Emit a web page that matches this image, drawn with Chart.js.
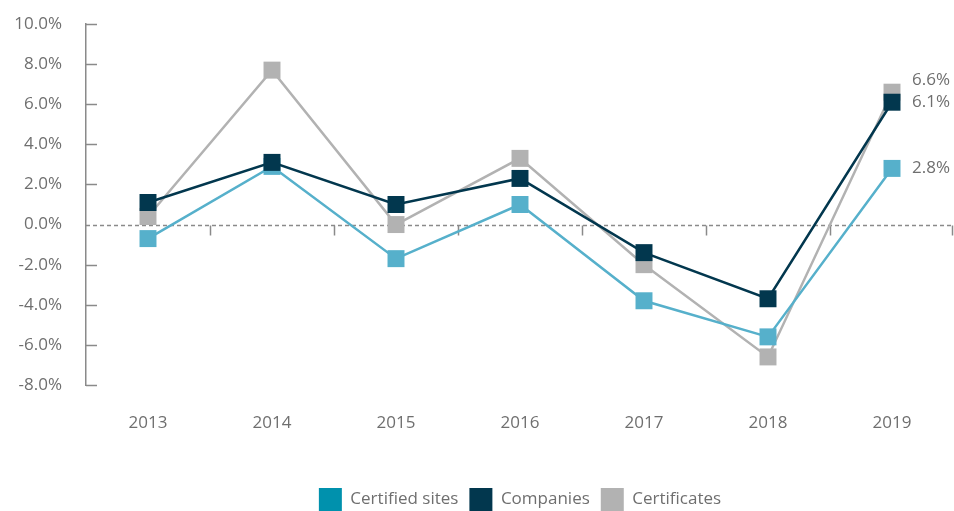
<!DOCTYPE html>
<html>
<head>
<meta charset="utf-8">
<script src="https://cdn.jsdelivr.net/npm/chart.js@4.4.1/dist/chart.umd.min.js"></script>
<style>
  html, body { margin: 0; padding: 0; background: #ffffff; overflow: hidden; }
  #wrap { width: 954px; height: 511px; position: relative; overflow: hidden; }
  canvas { display: block; }
</style>
</head>
<body>
<div id="wrap"><canvas id="c"></canvas></div>
<script>
// ---- Data ----
const categories = ['2013', '2014', '2015', '2016', '2017', '2018', '2019'];
const certifiedSites = [-0.7, 2.9, -1.7, 1.0, -3.8, -5.6, 2.8];
const companies = [1.1, 3.1, 1.0, 2.3, -1.4, -3.7, 6.1];
const certificates = [0.4, 7.7, 0.0, 3.3, -2.0, -6.6, 6.6];
const seriesNames = ['Certified sites', 'Companies', 'Certificates'];
const yTickMin = -8, yTickMax = 10, yTickStep = 2;

// ---- Style ----
const FONT = "'Open Sans', 'DejaVu Sans', sans-serif";
const TEXT = '#6f6f6f';
const AXIS = '#8a8a8a';
const cCert = '#56B0CB', cCertLegend = '#0091AD', cComp = '#02374E', cCertif = '#B2B2B2';

const axisPlugin = {
  id: 'customAxes',
  beforeDatasetsDraw(chart) {
    const { ctx, chartArea, scales: { x, y } } = chart;
    ctx.save();
    ctx.strokeStyle = AXIS;
    ctx.lineWidth = 1.5;
    // y ticks pointing right
    y.ticks.forEach(t => {
      if (t.value === 0) return;
      const py = Math.round(y.getPixelForValue(t.value)) + 0.5;
      ctx.beginPath();
      ctx.moveTo(chartArea.left, py);
      ctx.lineTo(chartArea.left + 11, py);
      ctx.stroke();
    });
    // dashed zero line
    const zy = Math.round(y.getPixelForValue(0)) + 0.5;
    ctx.setLineDash([4, 3]);
    ctx.beginPath();
    ctx.moveTo(chartArea.left, zy);
    ctx.lineTo(chartArea.right, zy);
    ctx.stroke();
    ctx.setLineDash([]);
    // x ticks at category boundaries
    const n = categories.length;
    for (let i = 0; i < n; i++) {
      let bx;
      if (i < n - 1) bx = (x.getPixelForTick(i) + x.getPixelForTick(i + 1)) / 2;
      else bx = chartArea.right - 2;
      bx = Math.round(bx) + 0.5;
      ctx.beginPath();
      ctx.moveTo(bx, zy);
      ctx.lineTo(bx, zy + 10);
      ctx.stroke();
    }
    ctx.restore();
  }
};

const endLabelPlugin = {
  id: 'endLabels',
  afterDatasetsDraw(chart, args, opts) {
    const { ctx } = chart;
    ctx.save();
    ctx.font = '17px ' + FONT;
    ctx.fillStyle = TEXT;
    ctx.textAlign = 'left';
    ctx.textBaseline = 'middle';
    chart.data.datasets.forEach((ds, di) => {
      const meta = chart.getDatasetMeta(di);
      const last = meta.data[meta.data.length - 1];
      const v = ds.data[ds.data.length - 1];
      const dy = (opts.offsets && opts.offsets[di]) || 0;
      ctx.fillText(v.toFixed(1) + '%', last.x + 20, last.y + dy);
    });
    ctx.restore();
  }
};

const legendShift = {
  id: 'legendShift',
  afterLayout(chart) {
    if (chart.legend) {
      chart.legend.top += 10;
      chart.legend.bottom += 10;
    }
  }
};

function mkDs(label, data, color, legendColor, order) {
  return {
    label, data,
    borderColor: color,
    backgroundColor: legendColor,
    pointBackgroundColor: color,
    pointBorderColor: color,
    pointBorderWidth: 0,
    pointStyle: 'rect',
    pointRadius: 12,
    pointHoverRadius: 12,
    borderWidth: 2.5,
    tension: 0,
    order
  };
}

new Chart(document.getElementById('c'), {
  type: 'line',
  data: {
    labels: categories,
    datasets: [
      mkDs(seriesNames[0], certifiedSites, cCert, cCertLegend, 1),
      mkDs(seriesNames[1], companies, cComp, cComp, 0),
      mkDs(seriesNames[2], certificates, cCertif, cCertif, 2)
    ]
  },
  options: {
    responsive: true,
    maintainAspectRatio: false,
    animation: false,
    layout: { autoPadding: false, padding: { top: 24, left: 0, right: 0, bottom: 0 } },
    scales: {
      x: {
        offset: true,
        grid: { display: false, drawTicks: false },
        border: { display: false },
        ticks: { color: TEXT, font: { family: FONT, size: 17 }, padding: 28 },
        afterFit(scale) { scale.height = 82; scale.paddingLeft = 0; scale.paddingRight = 0; }
      },
      y: {
        min: yTickMin, max: yTickMax,
        grid: { display: true, drawOnChartArea: false, drawTicks: false, color: 'rgba(0,0,0,0)' },
        border: { display: true, color: AXIS, width: 1.5, dash: [4, 3] },
        ticks: {
          stepSize: yTickStep,
          color: TEXT,
          font: { family: FONT, size: 17 },
          padding: 24,
          callback: v => v.toFixed(1) + '%'
        },
        afterFit(scale) { scale.width = 86; scale.paddingTop = 0; scale.paddingBottom = 0; }
      }
    },
    plugins: {
      tooltip: { enabled: false },
      endLabels: { offsets: [0, 0, -12] },
      legend: {
        position: 'bottom',
        fullSize: false,
        labels: {
          color: TEXT,
          font: { family: FONT, size: 17 },
          boxWidth: 23,
          boxHeight: 23,
          padding: 11,
          generateLabels(chart) {
            return chart.data.datasets.map((ds, i) => ({
              text: ds.label,
              fillStyle: ds.backgroundColor,
              strokeStyle: 'rgba(0,0,0,0)',
              lineWidth: 0,
              fontColor: TEXT,
              hidden: false,
              datasetIndex: i
            }));
          }
        }
      }
    }
  },
  plugins: [axisPlugin, endLabelPlugin, legendShift]
});
</script>
</body>
</html>
